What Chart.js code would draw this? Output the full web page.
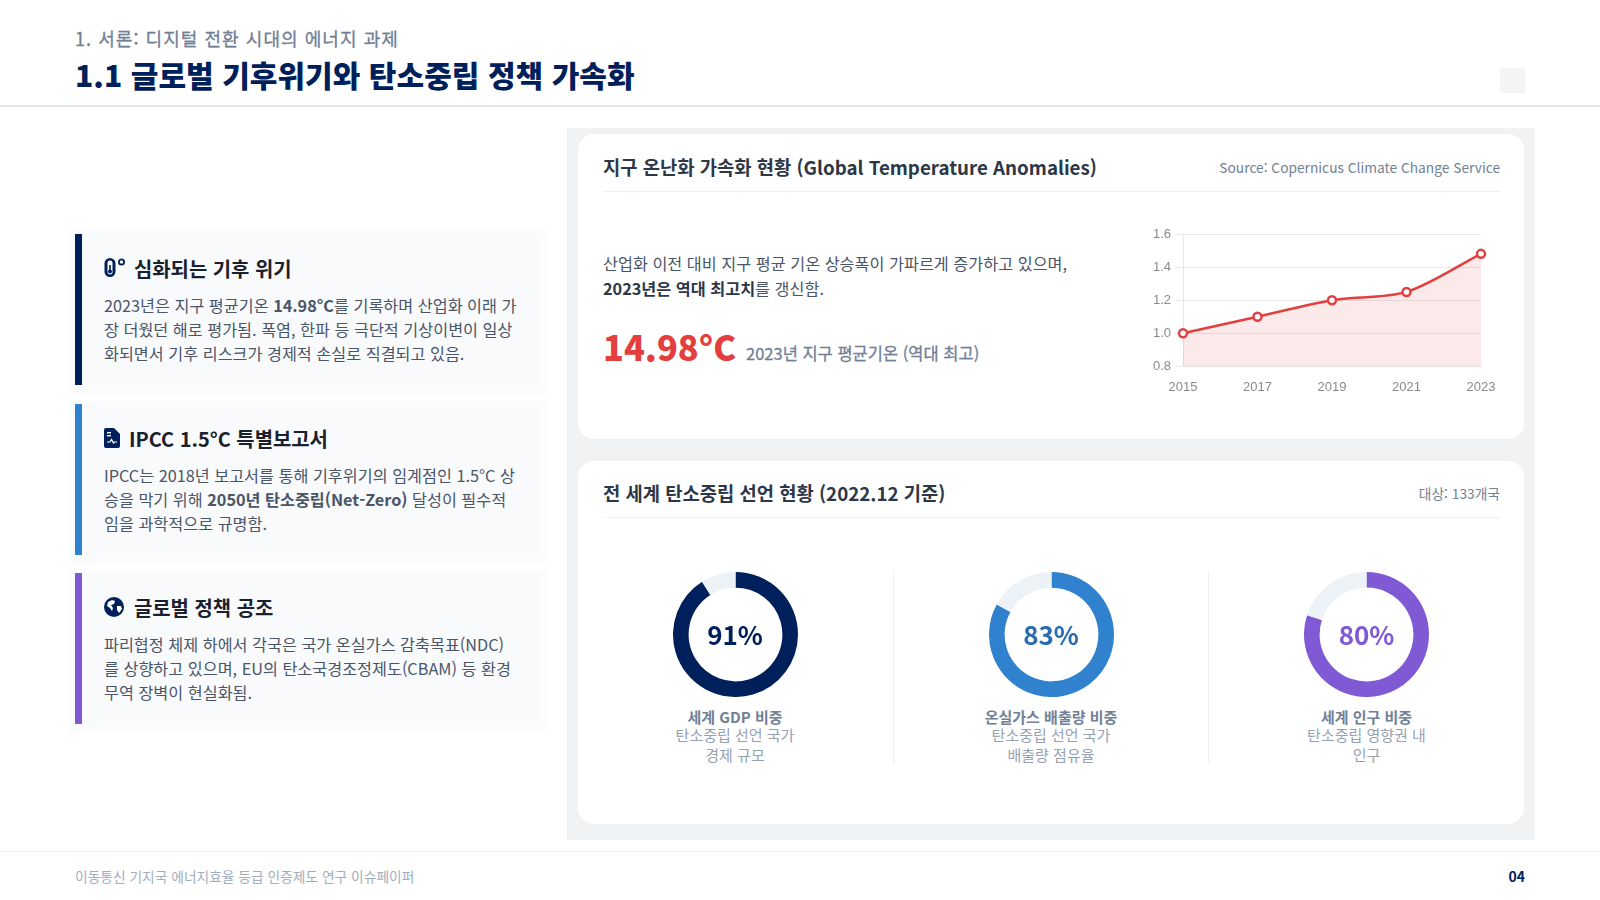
<!DOCTYPE html>
<html lang="ko">
<head>
<meta charset="utf-8">
<title>1.1 글로벌 기후위기와 탄소중립 정책 가속화</title>
<script src="https://cdn.jsdelivr.net/npm/chart.js@4/dist/chart.umd.min.js"></script>
<style>
  * { box-sizing: border-box; margin: 0; padding: 0; }
  html, body { width: 1600px; height: 900px; overflow: hidden; background: #fff; }
  body { position: relative; font-family: "Noto Sans CJK KR", "Noto Sans", sans-serif; color: #2d3748; }
  .abs { position: absolute; white-space: nowrap; }
  .medium { -webkit-text-stroke: 0.3px currentColor; }
  .subtitle { left: 75px; top: 25px; font-size: 18px; line-height: 27px; color: #718096; letter-spacing: 1.05px; }
  .title { left: 75px; top: 52px; font-size: 30px; line-height: 44px; font-weight: 900; color: #00205b; letter-spacing: 0.05px; }
  .head-line { left: 0; top: 105px; width: 1600px; height: 2px; background: #e2e8f0; }
  .head-btn { left: 1500px; top: 68px; width: 25px; height: 25px; background: #f3f4f5; }
  .head-btn svg { position: absolute; left: 9px; top: 10px; }
  .panel { left: 567px; top: 128px; width: 968px; height: 712px; background: #f1f2f4; }
  .card { position: absolute; left: 578px; width: 946px; background: #fff; border-radius: 16px; }
  .card-a { top: 134px; height: 305px; }
  .card-b { top: 461px; height: 363px; }
  .card-title { left: 603px; font-size: 18.750px; line-height: 30px; font-weight: 700; color: #2d3748; }
  .card-note { right: 100px; font-size: 13.750px; line-height: 20px; color: #718096; }
  .rule { left: 603px; width: 897px; height: 1px; background: #edf2f7; }
  .lead { left: 603px; top: 251px; font-size: 16.250px; line-height: 25px; color: #4a5568; }
  .lead b { font-weight: 700; color: #2d3748; }
  .big { left: 603px; top: 321px; font-size: 34.300px; line-height: 50px; font-weight: 900; color: #e53e3e; }
  .big-note { left: 746px; top: 340px; font-size: 16.500px; line-height: 26px; color: #718096; }
  .item { position: absolute; left: 75px; width: 465px; height: 151px; background: #f9fafc; box-shadow: 0 2.500px 0 6.500px #fbfcfd; }
  .item i { position: absolute; left: 0; top: 0; width: 7px; height: 151px; }
  .item h3 { position: absolute; top: 20px; font-size: 19.900px; line-height: 30px; font-weight: 700; color: #1a202c; white-space: nowrap; }
  .item svg { position: absolute; left: 29px; top: 24px; }
  .item p { position: absolute; left: 29px; top: 59px; font-size: 16.240px; line-height: 24.200px; color: #4a5568; white-space: nowrap; }
  .item p b { font-weight: 700; }
  canvas { position: absolute; display: block; }
  .pct { width: 125px; text-align: center; font-size: 26px; line-height: 38px; font-weight: 700; }
  .dn-label { width: 240px; text-align: center; font-size: 15px; line-height: 20px; color: #95a1b3; }
  .dn-label b { display: block; line-height: 17px; font-weight: 700; color: #718096; }
  .sep { top: 571px; width: 1px; height: 193px; background: #edf2f7; }
  .foot-line { left: 0; top: 851px; width: 1600px; height: 1px; background: #edf2f7; }
  .foot { left: 75px; top: 866px; font-size: 13.750px; line-height: 20px; color: #a0aec0; }
  .page { right: 75px; top: 866px; font-size: 14px; line-height: 20px; font-weight: 700; color: #00205b; }
</style>
</head>
<body>
<div class="abs subtitle medium">1. 서론: 디지털 전환 시대의 에너지 과제</div>
<div class="abs title">1.1 글로벌 기후위기와 탄소중립 정책 가속화</div>
<div class="abs head-line"></div>
<div class="abs head-btn"><svg width="7" height="5" viewBox="0 0 7 5"><path d="M0.500 0.500L3.500 4L6.500 0.500" fill="none" stroke="#e4e5e7" stroke-width="1"/></svg></div>

<div class="item" style="top:234px"><i style="background:#00205b"></i>
  <svg width="22" height="22" viewBox="0 0 22 22"><rect x="0.500" y="0" width="11" height="19" rx="5.500" fill="#00205b"/><rect x="3.500" y="2.500" width="5" height="14" rx="2.500" fill="#fff"/><circle cx="6" cy="13.500" r="2" fill="#00205b"/><rect x="5.200" y="7" width="1.600" height="7" fill="#00205b"/><circle cx="17.500" cy="4" r="2.600" fill="none" stroke="#00205b" stroke-width="1.800"/></svg>
  <h3 style="left:59px">심화되는 기후 위기</h3>
  <p>2023년은 지구 평균기온 <b>14.98°C</b>를 기록하며 산업화 이래 가<br>장 더웠던 해로 평가됨. 폭염, 한파 등 극단적 기상이변이 일상<br>화되면서 기후 리스크가 경제적 손실로 직결되고 있음.</p>
</div>
<div class="item" style="top:404px"><i style="background:#3182ce"></i>
  <svg width="16" height="20" viewBox="0 0 16 20"><path d="M2 0h8l6 6v12a2 2 0 0 1-2 2H2a2 2 0 0 1-2-2V2a2 2 0 0 1 2-2z" fill="#00205b"/><path d="M3 14h3l1.500-2.500L9.500 15l1-1H13" fill="none" stroke="#fff" stroke-width="1.200"/><rect x="3" y="4" width="4" height="1.400" fill="#fff"/><rect x="3" y="7" width="4" height="1.400" fill="#fff"/></svg>
  <h3 style="left:54px">IPCC 1.5°C 특별보고서</h3>
  <p>IPCC는 2018년 보고서를 통해 기후위기의 임계점인 1.5°C 상<br>승을 막기 위해 <b>2050년 탄소중립(Net-Zero)</b> 달성이 필수적<br>임을 과학적으로 규명함.</p>
</div>
<div class="item" style="top:573px"><i style="background:#805ad5"></i>
  <svg width="20" height="20" viewBox="0 0 20 20"><circle cx="10" cy="10" r="10" fill="#00205b"/><path d="M4 5l4-2 3 1-1 3-3 1 2 3-1 3-2-3-3-2z M13 9l4 0 1 3-3 4-2-3z" fill="#fff"/></svg>
  <h3 style="left:59px">글로벌 정책 공조</h3>
  <p>파리협정 체제 하에서 각국은 국가 온실가스 감축목표(NDC)<br>를 상향하고 있으며, EU의 탄소국경조정제도(CBAM) 등 환경<br>무역 장벽이 현실화됨.</p>
</div>

<div class="abs panel"></div>
<div class="card card-a"></div>
<div class="card card-b"></div>

<div class="abs card-title" style="top:152px">지구 온난화 가속화 현황 (Global Temperature Anomalies)</div>
<div class="abs card-note" style="top:157px">Source: Copernicus Climate Change Service</div>
<div class="abs rule" style="top:191px"></div>
<div class="abs lead">산업화 이전 대비 지구 평균 기온 상승폭이 가파르게 증가하고 있으며,<br><b>2023년은 역대 최고치</b>를 갱신함.</div>
<div class="abs big">14.98°C</div>
<div class="abs big-note medium">2023년 지구 평균기온 (역대 최고)</div>
<canvas id="tempChart" width="373" height="180" style="left:1130px;top:220px"></canvas>

<div class="abs card-title" style="top:478px">전 세계 탄소중립 선언 현황 (2022.12 기준)</div>
<div class="abs card-note" style="top:483px">대상: 133개국</div>
<div class="abs rule" style="top:517px"></div>
<div class="abs sep" style="left:893px"></div>
<div class="abs sep" style="left:1208px"></div>
<div id="donuts"></div>

<div class="abs foot-line"></div>
<div class="abs foot">이동통신 기지국 에너지효율 등급 인증제도 연구 이슈페이퍼</div>
<div class="abs page">04</div>

<script>
// Temperature anomaly line
const years = ['2015', '2017', '2019', '2021', '2023'];
const anomalies = [1.0, 1.1, 1.2, 1.25, 1.48];

// Net-zero share doughnuts
const shareValues = [91, 83, 80];
const shareTitles = ['세계 GDP 비중', '온실가스 배출량 비중', '세계 인구 비중'];
const shareLines = [
  ['탄소중립 선언 국가', '경제 규모'],
  ['탄소중립 선언 국가', '배출량 점유율'],
  ['탄소중립 영향권 내', '인구']
];
const shareColors = ['#00205b', '#3182ce', '#805ad5'];
const shareTextColors = ['#00205b', '#2b6cb0', '#805ad5'];
const shareCenters = [735, 1051, 1366.5];

new Chart(document.getElementById('tempChart'), {
  type: 'line',
  data: {
    labels: years,
    datasets: [{
      data: anomalies,
      borderColor: '#e0403f',
      backgroundColor: 'rgba(229, 62, 62, 0.11)',
      borderWidth: 2.5,
      pointRadius: 4,
      pointBorderWidth: 2.5,
      pointBackgroundColor: '#fff',
      pointBorderColor: '#e0403f',
      tension: 0.3,
      fill: true,
      clip: false
    }]
  },
  options: {
    responsive: false,
    animation: false,
    layout: { padding: { top: 14, right: 22, left: 0, bottom: 0 } },
    plugins: { legend: { display: false }, tooltip: { enabled: false } },
    scales: {
      x: {
        grid: { display: false },
        border: { color: '#e2e2e2' },
        ticks: { color: '#8a8a8a', font: { size: 13 }, maxRotation: 0, padding: 5 }
      },
      y: {
        min: 0.8,
        max: 1.6,
        afterFit: (s) => { s.width = 53; },
        grid: { color: '#e8e8e8', tickLength: 8 },
        border: { color: '#e8e8e8' },
        ticks: { stepSize: 0.2, color: '#8a8a8a', font: { size: 13 }, padding: 4, callback: (v) => v.toFixed(1) }
      }
    }
  }
});

// one doughnut per share
const donuts = document.getElementById('donuts');
shareValues.forEach((value, i) => {
  const cx = shareCenters[i];
  const canvas = document.createElement('canvas');
  canvas.width = 125;
  canvas.height = 125;
  canvas.style.left = (cx - 62.5) + 'px';
  canvas.style.top = '572px';
  donuts.appendChild(canvas);

  new Chart(canvas, {
    type: 'doughnut',
    data: {
      datasets: [{
        data: [value, 100 - value],
        backgroundColor: [shareColors[i], '#edf2f7'],
        borderWidth: 0
      }]
    },
    options: {
      responsive: false,
      animation: false,
      cutout: '75%',
      plugins: { legend: { display: false }, tooltip: { enabled: false } }
    }
  });

  const pct = document.createElement('div');
  pct.className = 'abs pct';
  pct.style.left = (cx - 62.5) + 'px';
  pct.style.top = '615px';
  pct.style.color = shareTextColors[i];
  pct.textContent = value + '%';
  donuts.appendChild(pct);

  const label = document.createElement('div');
  label.className = 'abs dn-label';
  label.style.left = (cx - 120) + 'px';
  label.style.top = '708px';
  const title = document.createElement('b');
  title.textContent = shareTitles[i];
  label.appendChild(title);
  shareLines[i].forEach((line) => {
    const row = document.createElement('div');
    row.textContent = line;
    label.appendChild(row);
  });
  donuts.appendChild(label);
});
</script>
</body>
</html>
